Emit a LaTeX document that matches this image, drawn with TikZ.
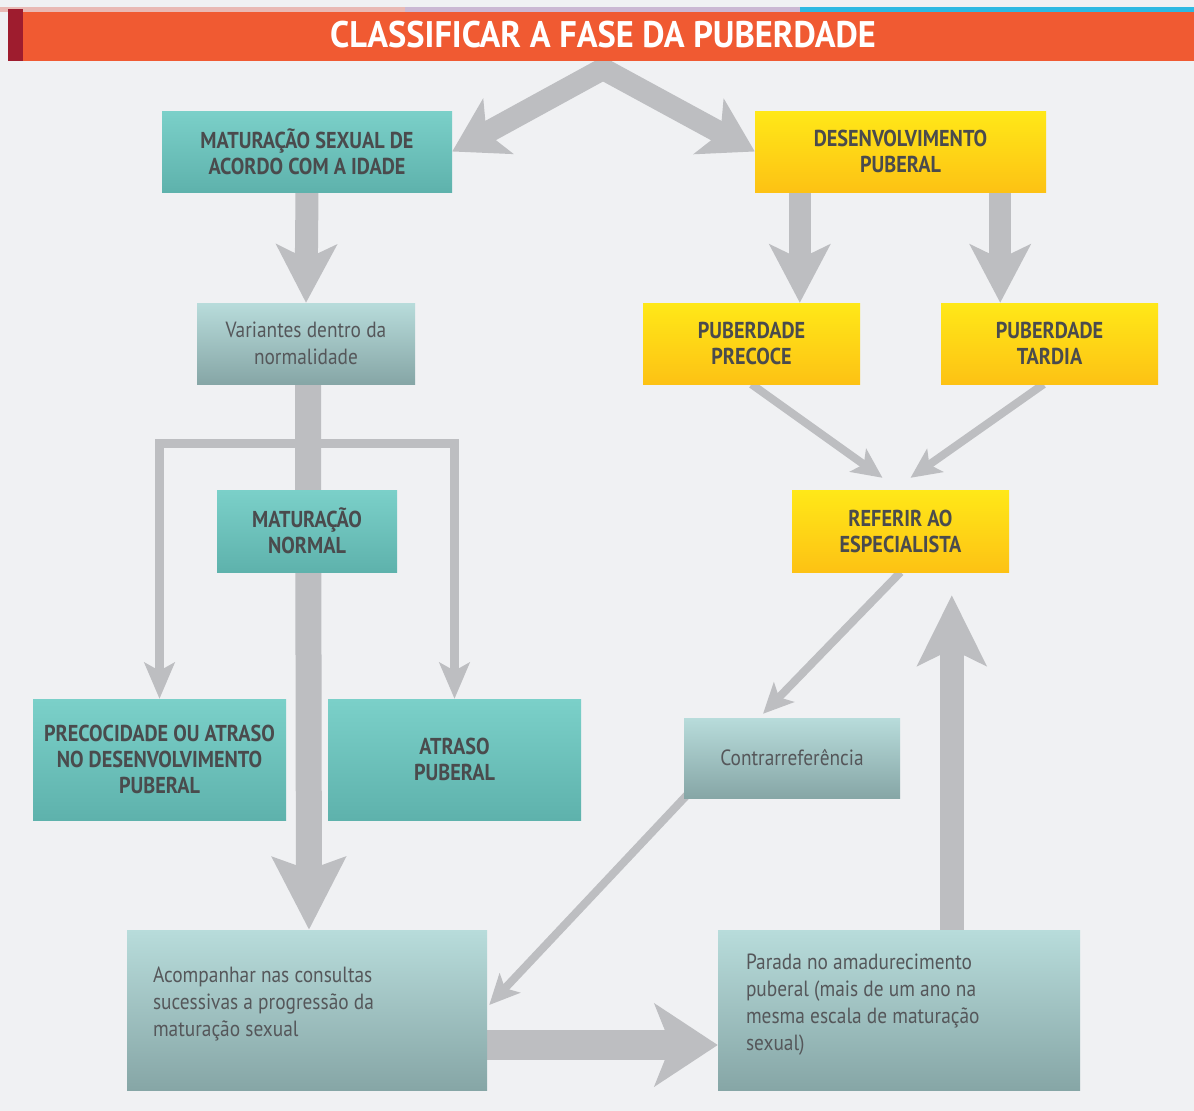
\documentclass[tikz,border=0pt]{standalone}
\usepackage{fontspec}
\setmainfont{PT Sans}[FakeStretch=0.88]
\newfontfamily\titlefont{PT Sans}[FakeStretch=0.93]
\usetikzlibrary{arrows.meta,calc}
\pgfdeclarelayer{bg}
\pgfsetlayers{bg,main}

\definecolor{paper}{HTML}{F0F1F3}
\definecolor{arrowgray}{HTML}{BDBEC1}
\definecolor{tealA}{HTML}{7BD0C9}
\definecolor{tealB}{HTML}{5EB2AC}
\definecolor{yelA}{HTML}{FFE818}
\definecolor{yelB}{HTML}{FDC214}
\definecolor{paleA}{HTML}{B8DCDB}
\definecolor{paleB}{HTML}{86A6A6}
\definecolor{ink}{HTML}{4A4B4D}
\definecolor{inksoft}{HTML}{55575A}
\definecolor{headorange}{HTML}{F05A32}
\definecolor{headred}{HTML}{9E1C2E}
\definecolor{stripA}{HTML}{E9B9B4}
\definecolor{stripB}{HTML}{CBB8D3}
\definecolor{stripC}{HTML}{2DB9E2}

\begin{document}
\begin{tikzpicture}[x=1pt,y=-1pt,
  box/.style={inner sep=0pt, draw=none, align=center},
  tealbox/.style={box, top color=tealA, bottom color=tealB,
    text=ink, font=\bfseries\fontsize{23}{26}\selectfont},
  yelbox/.style={box, top color=yelA, bottom color=yelB,
    text=ink, font=\bfseries\fontsize{23}{26}\selectfont},
  palebox/.style={box, top color=paleA, bottom color=paleB,
    text=inksoft, font=\fontsize{22}{27}\selectfont},
  bodytext/.style={inner sep=0pt, align=left, text=inksoft,
    font=\fontsize{22}{27}\selectfont},
  fatarrow/.style={draw=arrowgray, line width=23pt, line join=miter,
    -{Stealth[length=58pt,width=60pt,inset=14pt]}},
  slimarrow/.style={draw=arrowgray, line width=9pt, line join=miter,
    -{Stealth[length=36pt,width=30pt,inset=8pt]}},
  diagarrow/.style={draw=arrowgray, line width=8pt,
    -{Stealth[length=30pt,width=28pt,inset=7pt]}}
]
\useasboundingbox (0,0) rectangle (1194,1111);

% header band
\fill[stripA] (0,7) rectangle (405,12);
\fill[stripB] (405,7) rectangle (800,12);
\fill[stripC] (800,7) rectangle (1194,12);
\fill[headorange] (8,12) rectangle (1194,61);
\fill[headred] (8,9) rectangle (23,61);
\node[text=white, font=\titlefont\bfseries\fontsize{37}{40}\selectfont] (title) at (603,35) {CLASSIFICAR A FASE DA PUBERDADE};
\coordinate (apex) at (603,69);

% boxes
\node[tealbox, minimum width=290pt, minimum height=81pt] (mat) at (307,151.5) {MATURAÇÃO SEXUAL DE\\ACORDO COM A IDADE};
\node[yelbox, minimum width=291pt, minimum height=81pt] (des) at (900.5,151.5) {DESENVOLVIMENTO\\PUBERAL};
\node[palebox, minimum width=218pt, minimum height=81pt] (var) at (306,343.5) {Variantes dentro da\\normalidade};
\node[yelbox, minimum width=217pt, minimum height=81pt] (pre) at (751.5,343.5) {PUBERDADE\\PRECOCE};
\node[yelbox, minimum width=217pt, minimum height=81pt] (tar) at (1049.5,343.5) {PUBERDADE\\TARDIA};
\node[tealbox, minimum width=180pt, minimum height=82pt] (nor) at (307,531) {MATURAÇÃO\\NORMAL};
\node[yelbox, minimum width=217pt, minimum height=82pt] (ref) at (900.5,531) {REFERIR AO\\ESPECIALISTA};
\node[tealbox, minimum width=253pt, minimum height=121pt] (pat) at (159.5,759.5) {PRECOCIDADE OU ATRASO\\NO DESENVOLVIMENTO\\PUBERAL};
\node[tealbox, minimum width=253pt, minimum height=121pt] (atr) at (454.5,759.5) {ATRASO\\PUBERAL};
\node[palebox, minimum width=216pt, minimum height=80pt] (con) at (792,758) {Contrarreferência};
\node[palebox, minimum width=360pt, minimum height=160pt] (aco) at (307,1010) {};
\node[bodytext, anchor=west] (acotext) at ($(aco.west)+(26,-6)$) {Acompanhar nas consultas\\sucessivas a progressão da\\maturação sexual};
\node[palebox, minimum width=362pt, minimum height=160pt] (par) at (899,1010) {};
\node[bodytext, anchor=west] (partext) at ($(par.west)+(28,-5)$) {Parada no amadurecimento\\puberal (mais de um ano na\\mesma escala de maturação\\sexual)};

% helper points for the connectors
\coordinate (split) at (308,443);
\coordinate (d1) at ($(des.south west)+(45,0)$);
\coordinate (d2) at ($(des.south east)+(-46,0)$);
\coordinate (up) at ($(par.north west)+(234,0)$);

\begin{pgfonlayer}{bg}
\fill[paper] (0,0) rectangle (1194,1111);
% chevron from the title
\draw[fatarrow, line width=22pt,
  {Stealth[length=52pt,width=62pt,inset=13pt]}-{Stealth[length=52pt,width=62pt,inset=13pt]}]
  (mat.east) -- (apex) -- (des.west);
\draw[fatarrow] (mat.south) -- (var.north);
\draw[fatarrow, line width=22pt] (d1) -- (d1 |- pre.north);
\draw[fatarrow, line width=22pt] (d2) -- (d2 |- tar.north);
% main trunk
\draw[fatarrow, line width=26pt, -{Stealth[length=72pt,width=72pt,inset=12pt]}] ($(var.south)+(2,0)$) -- ($(aco.north)+(2,0)$);
\draw[slimarrow] (split) -| (pat.north);
\draw[slimarrow] (split) -| (atr.north);
% referral loop
\draw[diagarrow] (pre.south) -- ($(ref.north)+(-18,-12)$);
\draw[diagarrow] ($(tar.south)+(-6,0)$) -- ($(ref.north)+(10,-12)$);
\draw[diagarrow] (ref.south) -- ($(con.north)+(-29,-4)$);
\draw[diagarrow] ($(con.south west)+(3,-3)$) -- ($(aco.east)+(2,-5)$);
\draw[fatarrow, line width=30pt, -{Stealth[length=63pt,width=82pt,inset=16pt]}]
  ($(aco.east)+(0,35)$) -- ($(par.west)+(0,35)$);
\draw[fatarrow, line width=24pt, -{Stealth[length=70pt,width=68pt,inset=16pt]}]
  (up) -- ($(up |- ref.south)+(0,23)$);
\end{pgfonlayer}
\end{tikzpicture}
\end{document}
